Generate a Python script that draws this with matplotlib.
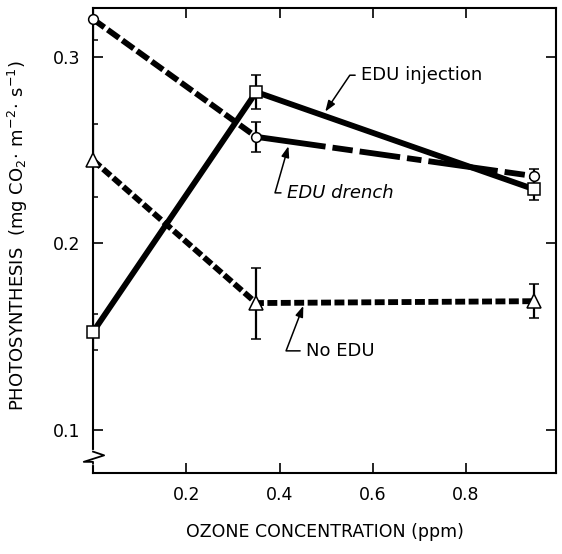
import matplotlib.pyplot as plt

# ozone concentration (ppm)
ozone = [0.0, 0.35, 0.945]

# photosynthesis (mg CO2 m-2 s-1) and error bar half-widths
injection = [0.1525, 0.281, 0.229]
injection_err = [0.0095, 0.009, 0.006]

drench = [0.320, 0.257, 0.236]
drench_err = [0.011, 0.008, 0.004]

no_edu = [0.2445, 0.168, 0.169]
no_edu_err = [0.0195, 0.019, 0.009]

xticks = [0.2, 0.4, 0.6, 0.8]
yticks = [0.1, 0.2, 0.3]

plt.rcParams['font.family'] = 'DejaVu Sans'

fig = plt.figure(figsize=(5.62, 5.54), dpi=100)
ax = fig.add_axes([0.1655, 0.1462, 0.824, 0.8394])

lw = 4.2
# lines
ax.plot(ozone, injection, color='black', lw=lw, solid_capstyle='butt', zorder=2)
ax.plot(ozone[:2], drench[:2], color='black', lw=lw, dashes=(2.4, 0.7), zorder=2)
ax.plot(ozone[1:], drench[1:], color='black', lw=lw,
        dashes=(12, 1.2, 3.5, 1.2, 7, 1.2, 2.5, 1.2), zorder=2)
ax.plot(ozone, no_edu, color='black', lw=lw, dashes=(1.7, 0.6), zorder=2)

# error bars and markers
mk = dict(color='black', mfc='white', mec='black', mew=1.1, linestyle='none',
          elinewidth=1.6, capsize=3.5, capthick=2.2, zorder=3)
for vals, err, m, size in [(injection, injection_err, 's', 8),
                           (drench, drench_err, 'o', 7),
                           (no_edu, no_edu_err, '^', 10)]:
    line, caps, bars = ax.errorbar(ozone, vals, yerr=err, marker=m, ms=size, **mk)
    line.set_clip_on(False)

ax.set_xlim(0.0, 0.993)
ax.set_ylim(0.077, 0.326)
ax.set_xticks(xticks)
ax.set_yticks(yticks)
ax.set_xticklabels(['0.2', '0.4', '0.6', '0.8'])
ax.set_yticklabels(['0.1', '0.2', '0.3'])
ax.tick_params(direction='in', length=7, width=1.2, labelsize=12.5, pad=9,
               top=True, right=True)
for s in ax.spines.values():
    s.set_linewidth(1.5)

ax.set_xlabel('OZONE CONCENTRATION (ppm)', fontsize=12.5, labelpad=14)
ax.set_ylabel(r'PHOTOSYNTHESIS  (mg CO$_2\!\cdot\,$m$^{-2}\!\cdot\,$s$^{-1}$)',
              fontsize=13)
ax.yaxis.set_label_coords(-0.135, 0.51)

# annotations with hooked leaders
arrow = dict(arrowstyle='-|>,head_length=0.5,head_width=0.18', lw=1.1,
             color='black', shrinkA=2, shrinkB=0)
ax.annotate('EDU injection', xy=(0.498, 0.2705), xytext=(0.574, 0.290),
            fontsize=13, va='center', ha='left',
            arrowprops=dict(connectionstyle='angle,angleA=0,angleB=56,rad=0', **arrow))
ax.annotate('EDU drench', xy=(0.419, 0.252), xytext=(0.415, 0.227),
            fontsize=13, va='center', ha='left', style='italic',
            arrowprops=dict(connectionstyle='angle,angleA=0,angleB=74,rad=0', **arrow))
ax.annotate('No EDU', xy=(0.451, 0.1665), xytext=(0.456, 0.1424),
            fontsize=13, va='center', ha='left',
            arrowprops=dict(connectionstyle='angle,angleA=0,angleB=69,rad=0', **arrow))

# axis break mark on the left spine
ax.plot([0, 0], [0.046, 0.022], transform=ax.transAxes, color='white', lw=3,
        clip_on=False, zorder=5)
ax.plot([0, 0.024, -0.02, 0, 0], [0.046, 0.038, 0.024, 0.024, 0.02],
        transform=ax.transAxes, color='black', lw=1.3, clip_on=False, zorder=6)

fig.savefig('out.png', dpi=100)
